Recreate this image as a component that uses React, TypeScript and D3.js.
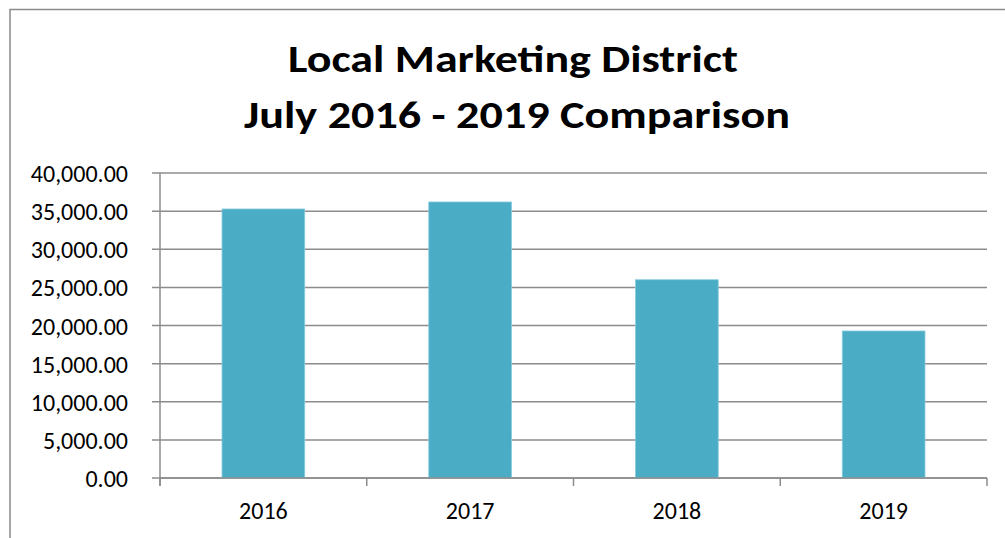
import React, { useEffect, useRef } from 'react';
import * as d3 from 'd3';

const years: string[] = ['2016', '2017', '2018', '2019'];
const amounts: number[] = [35280, 36200, 26000, 19280];
const yTicks: number[] = [0, 5000, 10000, 15000, 20000, 25000, 30000, 35000, 40000];
const titleLines: string[] = ['Local Marketing District', 'July 2016 - 2019 Comparison'];

const W = 1005;
const H = 538;
const FONT = 'Carlito, Lato, "Open Sans", sans-serif';

const App: React.FC = () => {
    const ref = useRef<SVGSVGElement>(null);

    useEffect(() => {
        const svg = d3.select(ref.current);
        svg.selectAll('*').remove();

        const left = 160, right = 987, top = 173, bottom = 478;

        const x = d3.scaleBand<string>()
            .domain(years)
            .range([left, right])
            .paddingInner(0.6)
            .paddingOuter(0.3);

        const y = d3.scaleLinear()
            .domain([0, 40000])
            .range([bottom, top]);

        // outer chart border (only left and top are inside the picture)
        svg.append('rect')
            .attr('x', 10)
            .attr('y', 9.5)
            .attr('width', W + 20)
            .attr('height', H + 20)
            .attr('fill', 'white')
            .attr('stroke', '#8a8a8a')
            .attr('stroke-width', 1.5);

        // title, stretched to the width of the original
        const titleSpots = [
            { x: 288, y: 72, len: 450 },
            { x: 244, y: 128, len: 546 },
        ];
        svg.append('g')
            .selectAll('text')
            .data(titleLines)
            .enter()
            .append('text')
            .attr('x', (_, i) => titleSpots[i].x)
            .attr('y', (_, i) => titleSpots[i].y)
            .attr('textLength', (_, i) => titleSpots[i].len)
            .attr('lengthAdjust', 'spacingAndGlyphs')
            .style('font-family', FONT)
            .style('font-weight', 'bold')
            .style('font-size', '39px')
            .text(d => d);

        // gridlines + y ticks
        svg.append('g')
            .selectAll('line')
            .data(yTicks)
            .enter()
            .append('line')
            .attr('x1', left - 8)
            .attr('x2', right)
            .attr('y1', d => y(d))
            .attr('y2', d => y(d))
            .attr('stroke', '#8c8c8c')
            .attr('stroke-width', 1.5);

        svg.append('g')
            .selectAll('text')
            .data(yTicks)
            .enter()
            .append('text')
            .attr('x', 128)
            .attr('y', d => y(d))
            .attr('dy', '0.38em')
            .attr('text-anchor', 'end')
            .style('font-family', FONT)
            .style('font-size', '24px')
            .attr('fill', '#000')
            .text(d => d3.format(',.2f')(d));

        // bars
        svg.append('g')
            .selectAll('rect')
            .data(years)
            .enter()
            .append('rect')
            .attr('x', d => x(d)!)
            .attr('y', (_, i) => y(amounts[i]))
            .attr('width', x.bandwidth())
            .attr('height', (_, i) => bottom - y(amounts[i]))
            .attr('fill', '#4bacc6')
            .attr('stroke', '#86cbdc')
            .attr('stroke-width', 0.8);

        // axes lines
        svg.append('line')
            .attr('x1', left)
            .attr('x2', left)
            .attr('y1', top)
            .attr('y2', bottom + 8)
            .attr('stroke', '#8c8c8c')
            .attr('stroke-width', 1.5);

        const step = x.step();
        const xTicks = d3.range(years.length + 1).map(i => left + i * step);
        svg.append('g')
            .selectAll('line')
            .data(xTicks)
            .enter()
            .append('line')
            .attr('x1', d => d)
            .attr('x2', d => d)
            .attr('y1', bottom)
            .attr('y2', bottom + 8)
            .attr('stroke', '#8c8c8c')
            .attr('stroke-width', 1.5);

        svg.append('line')
            .attr('x1', left)
            .attr('x2', right)
            .attr('y1', bottom)
            .attr('y2', bottom)
            .attr('stroke', '#8c8c8c')
            .attr('stroke-width', 1.5);

        // x labels
        svg.append('g')
            .selectAll('text')
            .data(years)
            .enter()
            .append('text')
            .attr('x', d => x(d)! + x.bandwidth() / 2)
            .attr('y', 519)
            .attr('text-anchor', 'middle')
            .style('font-family', FONT)
            .style('font-size', '24px')
            .text(d => d);
    }, []);

    return (
        <svg
            ref={ref}
            width={W}
            height={H}
            style={{ position: 'absolute', left: 0, top: 0, display: 'block', background: 'white' }}
        />
    );
};

export default App;
